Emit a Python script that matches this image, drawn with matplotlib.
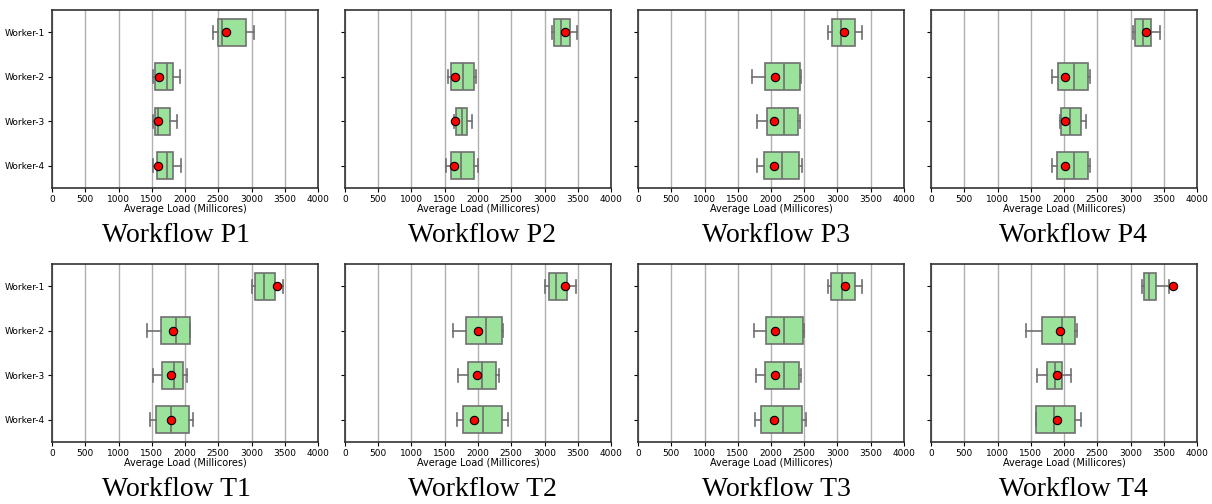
import matplotlib
matplotlib.use("Agg")
import matplotlib.pyplot as plt

# Datos (Millicores)
workers = ["Worker-1", "Worker-2", "Worker-3", "Worker-4"]
workflows = ["P1", "P2", "P3", "P4", "T1", "T2", "T3", "T4"]

whislo = [
    [2417, 1512, 1512, 1512],
    [3107, 1546, 1641, 1516],
    [2856, 1711, 1787, 1787],
    [3038, 1820, 1935, 1825],
    [3000, 1432, 1523, 1472],
    [3006, 1631, 1696, 1681],
    [2851, 1737, 1777, 1752],
    [3178, 1434, 1599, 1574],
]
q1 = [
    [2502, 1553, 1543, 1573],
    [3137, 1596, 1666, 1596],
    [2911, 1917, 1942, 1897],
    [3068, 1905, 1955, 1890],
    [3055, 1633, 1648, 1568],
    [3062, 1817, 1857, 1767],
    [2901, 1932, 1917, 1857],
    [3203, 1669, 1740, 1584],
]
med = [
    [2563, 1734, 1598, 1724],
    [3247, 1772, 1752, 1747],
    [3052, 2193, 2193, 2158],
    [3183, 2151, 2090, 2151],
    [3181, 1864, 1829, 1794],
    [3177, 2123, 2058, 2068],
    [3072, 2203, 2188, 2173],
    [3279, 1975, 1860, 1850],
]
q3 = [
    [2910, 1819, 1774, 1824],
    [3388, 1947, 1842, 1937],
    [3257, 2434, 2409, 2419],
    [3314, 2361, 2256, 2366],
    [3352, 2070, 1970, 2060],
    [3343, 2354, 2264, 2364],
    [3257, 2474, 2414, 2464],
    [3384, 2171, 1965, 2171],
]
whishi = [
    [3040, 1930, 1884, 1940],
    [3488, 1972, 1912, 1998],
    [3363, 2454, 2429, 2469],
    [3449, 2386, 2326, 2386],
    [3472, 2075, 2030, 2121],
    [3468, 2379, 2319, 2449],
    [3373, 2494, 2454, 2520],
    [3579, 2201, 2100, 2251],
]
media = [
    [2623, 1608, 1593, 1593],
    [3303, 1661, 1651, 1646],
    [3097, 2058, 2048, 2043],
    [3238, 2015, 2015, 2015],
    [3377, 1824, 1789, 1784],
    [3313, 1998, 1982, 1937],
    [3107, 2053, 2053, 2043],
    [3639, 1935, 1890, 1890],
]

fig = plt.figure(figsize=(12.12, 5.04), dpi=100)
W, H = 1212, 504
lefts = [52, 345, 638, 931]
tops = [10, 264]
ancho, alto = 266, 178
centros_titulo = [176, 482, 776, 1073]

edge = "#6f6f6f"
for i, wf in enumerate(workflows):
    fila, col = divmod(i, 4)
    ax = fig.add_axes([lefts[col] / W, 1 - (tops[fila] + alto) / H, ancho / W, alto / H])
    stats = []
    for j in range(4):
        stats.append(dict(whislo=whislo[i][j], q1=q1[i][j], med=med[i][j],
                          q3=q3[i][j], whishi=whishi[i][j], mean=media[i][j],
                          fliers=[]))
    ax.bxp(stats, positions=range(4), vert=False, widths=0.6, patch_artist=True,
           showmeans=True, showfliers=False,
           boxprops=dict(facecolor="#9be39a", edgecolor=edge, linewidth=1.2),
           medianprops=dict(color=edge, linewidth=1.2),
           whiskerprops=dict(color=edge, linewidth=1.2),
           capprops=dict(color=edge, linewidth=1.2),
           meanprops=dict(marker="o", markerfacecolor="red", markeredgecolor="black",
                          markersize=6, markeredgewidth=0.8))
    ax.set_ylim(3.5, -0.5)
    ax.set_xlim(0, 4000)
    ax.set_xticks(range(0, 4001, 500))
    ax.set_yticks(range(4))
    if col == 0:
        ax.set_yticklabels(workers)
    else:
        ax.set_yticklabels([])
    ax.tick_params(labelsize=6.5, length=3, pad=2)
    ax.xaxis.grid(True, color="#b0b0b0", linewidth=1)
    ax.set_axisbelow(True)
    for s in ax.spines.values():
        s.set_color("#333333")
        s.set_linewidth(1.2)
    ax.set_xlabel("Average Load (Millicores)", fontsize=7, labelpad=0)
    fig.text(centros_titulo[col] / W, 1 - (tops[fila] + alto + 48) / H,
             "Workflow " + wf, family="Liberation Serif", fontsize=20,
             ha="center", va="center")

fig.savefig("out.png", dpi=100)
